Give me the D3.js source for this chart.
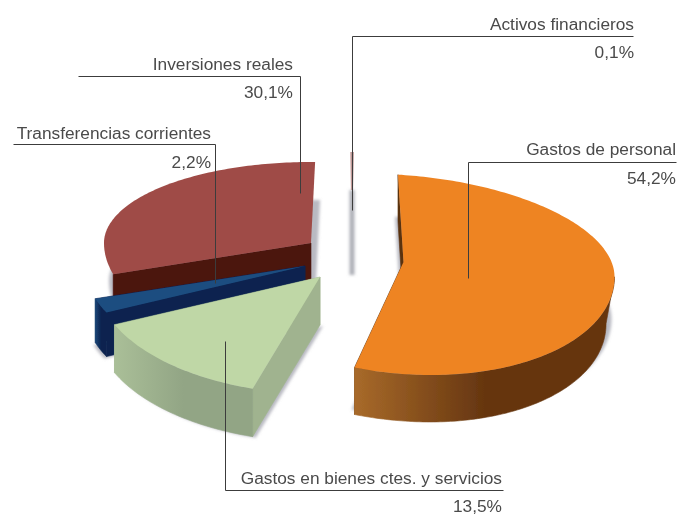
<!DOCTYPE html>
<html>
<head>
<meta charset="utf-8">
<script src="https://cdn.jsdelivr.net/npm/d3@7"></script>
<style>
html, body { margin: 0; background: #fff; }
svg { display: block; }
text { font-family: "Liberation Sans", sans-serif; font-size: 17.3px; fill: #4a4a4a; }
</style>
</head>
<body>
<div id="chart"></div>
<script>
var categories = ["Gastos de personal", "Gastos en bienes ctes. y servicios", "Transferencias corrientes", "Inversiones reales", "Activos financieros"];
var values = [54.2, 13.5, 2.2, 30.1, 0.1];
var valueLabels = ["54,2%", "13,5%", "2,2%", "30,1%", "0,1%"];

// how each exploded slice sits in the fake 3D view
var views = [
	{ cx: 403.5, cy: 262, rx: 211, ryBack: 87, ryFront: 112, rot: 0.5, tilt: 0.07, depth: 47, taper: 0.04, shadow: [-3, 42] },
	{ cx: 320, cy: 277, rx: 225, ryBack: 100, ryFront: 117, rot: 4.5, tilt: 0, depth: 48, taper: 0, shadow: [3, 49] },
	{ cx: 305, cy: 266, rx: 220, ryBack: 90, ryFront: 108, rot: 3, tilt: 0, depth: 44, taper: 0, shadow: [-2, 46] },
	{ cx: 311, cy: 243, rx: 207, ryBack: 81, ryFront: 106, rot: 3.5, tilt: 0, depth: 48, taper: 0, shadow: [5, 38], noWall: true },
	{ cx: 352, cy: 190, rx: 211, ryBack: 37, ryFront: 37, rot: 2.2, tilt: 0, depth: 0, taper: 0, band: 85 }
];
var tops = ["#ee8424", "#bfd7a6", "#1f4d80", "#9f4c47", "#a8605c"];
var cuts = ["#5a3210", "#a0b38f", "#0a2450", "#4c130f", "#8a8a8a"];
var wallFrom = ["#a86a2a", "#aabf98", "#1c4677", "#4c130f", "#888"];
var wallTo = ["#663610", "#92a585", "#0a2450", "#4c130f", "#888"];

// leader lines and labels, in page pixels
var leaders = [
	{ path: [[676, 162], [468, 162], [468, 278]], x: 676, y1: 155, y2: 184 },
	{ path: [[503, 490], [225, 490], [225, 341]], x: 502, y1: 484, y2: 512 },
	{ path: [[13, 144], [215, 144], [215, 283]], x: 211, y1: 139, y2: 168 },
	{ path: [[78, 76], [300, 76], [300, 193]], x: 293, y1: 70, y2: 98 },
	{ path: [[633, 36], [352, 36], [352, 210]], x: 634, y1: 30, y2: 58 }
];

var width = 678, height = 515;
var deg = Math.PI / 180;

var svg = d3.select("#chart").append("svg")
	.attr("width", width)
	.attr("height", height);
var defs = svg.append("defs");

function blur(id, amount) {
	defs.append("filter").attr("id", id)
		.attr("filterUnits", "userSpaceOnUse")
		.attr("x", 0).attr("y", 0)
		.attr("width", width).attr("height", height)
		.append("feGaussianBlur").attr("stdDeviation", amount);
}
blur("soft", 0.55);
blur("haze", 1.6);

var pie = d3.pie().sort(null)
	.startAngle(-2 * deg)
	.endAngle(358 * deg);
var arcs = pie(values);

function project(v, a) {
	var t = a + v.rot * deg;
	var c = Math.cos(t);
	var dx = v.rx * Math.sin(t);
	return [v.cx + dx, v.cy - c * (c > 0 ? v.ryBack : v.ryFront) + v.tilt * dx];
}
function arcPoints(v, a0, a1) {
	var n = Math.max(2, Math.ceil((a1 - a0) / deg));
	return d3.range(n + 1).map(function(i) {
		return project(v, a0 + (a1 - a0) * i / n);
	});
}
// lower rim of the slab, the right side pulls in a little
function down(v, p, h) {
	var dx = p[0] - v.cx;
	return [dx > 0 ? v.cx + dx * (1 - v.taper) : p[0], p[1] + h];
}
function quad(v, p, q) {
	return [p, q, down(v, q, v.depth), down(v, p, v.depth)];
}

var line = d3.line();
var pieG = svg.append("g").attr("filter", "url(#soft)");

// back slices first, orange goes on last
var order = [4, 3, 2, 1, 0];
order.forEach(function(i) {
	var v = views[i], d = arcs[i];
	var apex = [v.cx, v.cy];
	var first = project(v, d.startAngle), last = project(v, d.endAngle);
	var face = [apex].concat(arcPoints(v, d.startAngle, d.endAngle));
	var g = pieG.append("g");

	if (v.band) {
		g.append("path")
			.attr("d", line([apex, [v.cx, v.cy + v.band]]))
			.attr("fill", "none")
			.attr("stroke", "#aeb0b8")
			.attr("stroke-width", 5)
			.attr("filter", "url(#haze)");
	}
	if (v.shadow) {
		g.append("path")
			.attr("d", line(face) + "Z")
			.attr("transform", "translate(" + v.shadow[0] + "," + v.shadow[1] + ")")
			.attr("fill", "#b9bac2")
			.attr("filter", "url(#haze)");
	}

	// strokes close the hairline seams between neighbouring faces
	if (v.depth) {
		if (!v.noWall) {
			g.append("path").attr("d", line(quad(v, apex, last)) + "Z")
				.attr("fill", cuts[i]).attr("stroke", cuts[i]).attr("stroke-width", 0.6);
		}
		g.append("path").attr("d", line(quad(v, apex, first)) + "Z")
			.attr("fill", cuts[i]).attr("stroke", cuts[i]).attr("stroke-width", 0.6);
	}

	// outer wall, only the part that looks at the viewer
	var a0 = Math.max(d.startAngle, (90 - v.rot) * deg);
	var a1 = Math.min(d.endAngle, (270 - v.rot) * deg);
	if (v.depth && !v.noWall && a1 > a0) {
		var rim = arcPoints(v, a0, a1);
		var wall = rim.concat(rim.slice().reverse().map(function(p) { return down(v, p, v.depth); }));
		var xs = d3.extent(rim, function(p) { return p[0]; });
		var grad = defs.append("linearGradient")
			.attr("id", "wall" + i)
			.attr("gradientUnits", "userSpaceOnUse")
			.attr("x1", xs[0]).attr("x2", xs[1])
			.attr("y1", 0).attr("y2", 0);
		grad.append("stop").attr("offset", 0).attr("stop-color", wallFrom[i]);
		grad.append("stop").attr("offset", 0.5).attr("stop-color", wallTo[i]);
		g.append("path").attr("d", line(wall) + "Z")
			.attr("fill", "url(#wall" + i + ")")
			.attr("stroke", "url(#wall" + i + ")")
			.attr("stroke-width", 0.6);
	}

	var top = g.append("path").attr("d", line(face) + "Z").attr("fill", tops[i]);
	if (v.band) {
		// the slice is barely a pixel wide, give it the pink halo of the original
		top.attr("stroke", "#c29a98").attr("stroke-width", 2.2);
	}
});

var labels = svg.append("g");
leaders.forEach(function(l, i) {
	labels.append("path")
		.attr("d", line(l.path))
		.attr("transform", "translate(0.5,0.5)")
		.attr("fill", "none")
		.attr("stroke", "#3c3c3c")
		.attr("stroke-width", 1);
	labels.append("text")
		.attr("x", l.x).attr("y", l.y1)
		.attr("text-anchor", "end")
		.text(categories[i]);
	labels.append("text")
		.attr("x", l.x).attr("y", l.y2)
		.attr("text-anchor", "end")
		.text(valueLabels[i]);
});
</script>
</body>
</html>
